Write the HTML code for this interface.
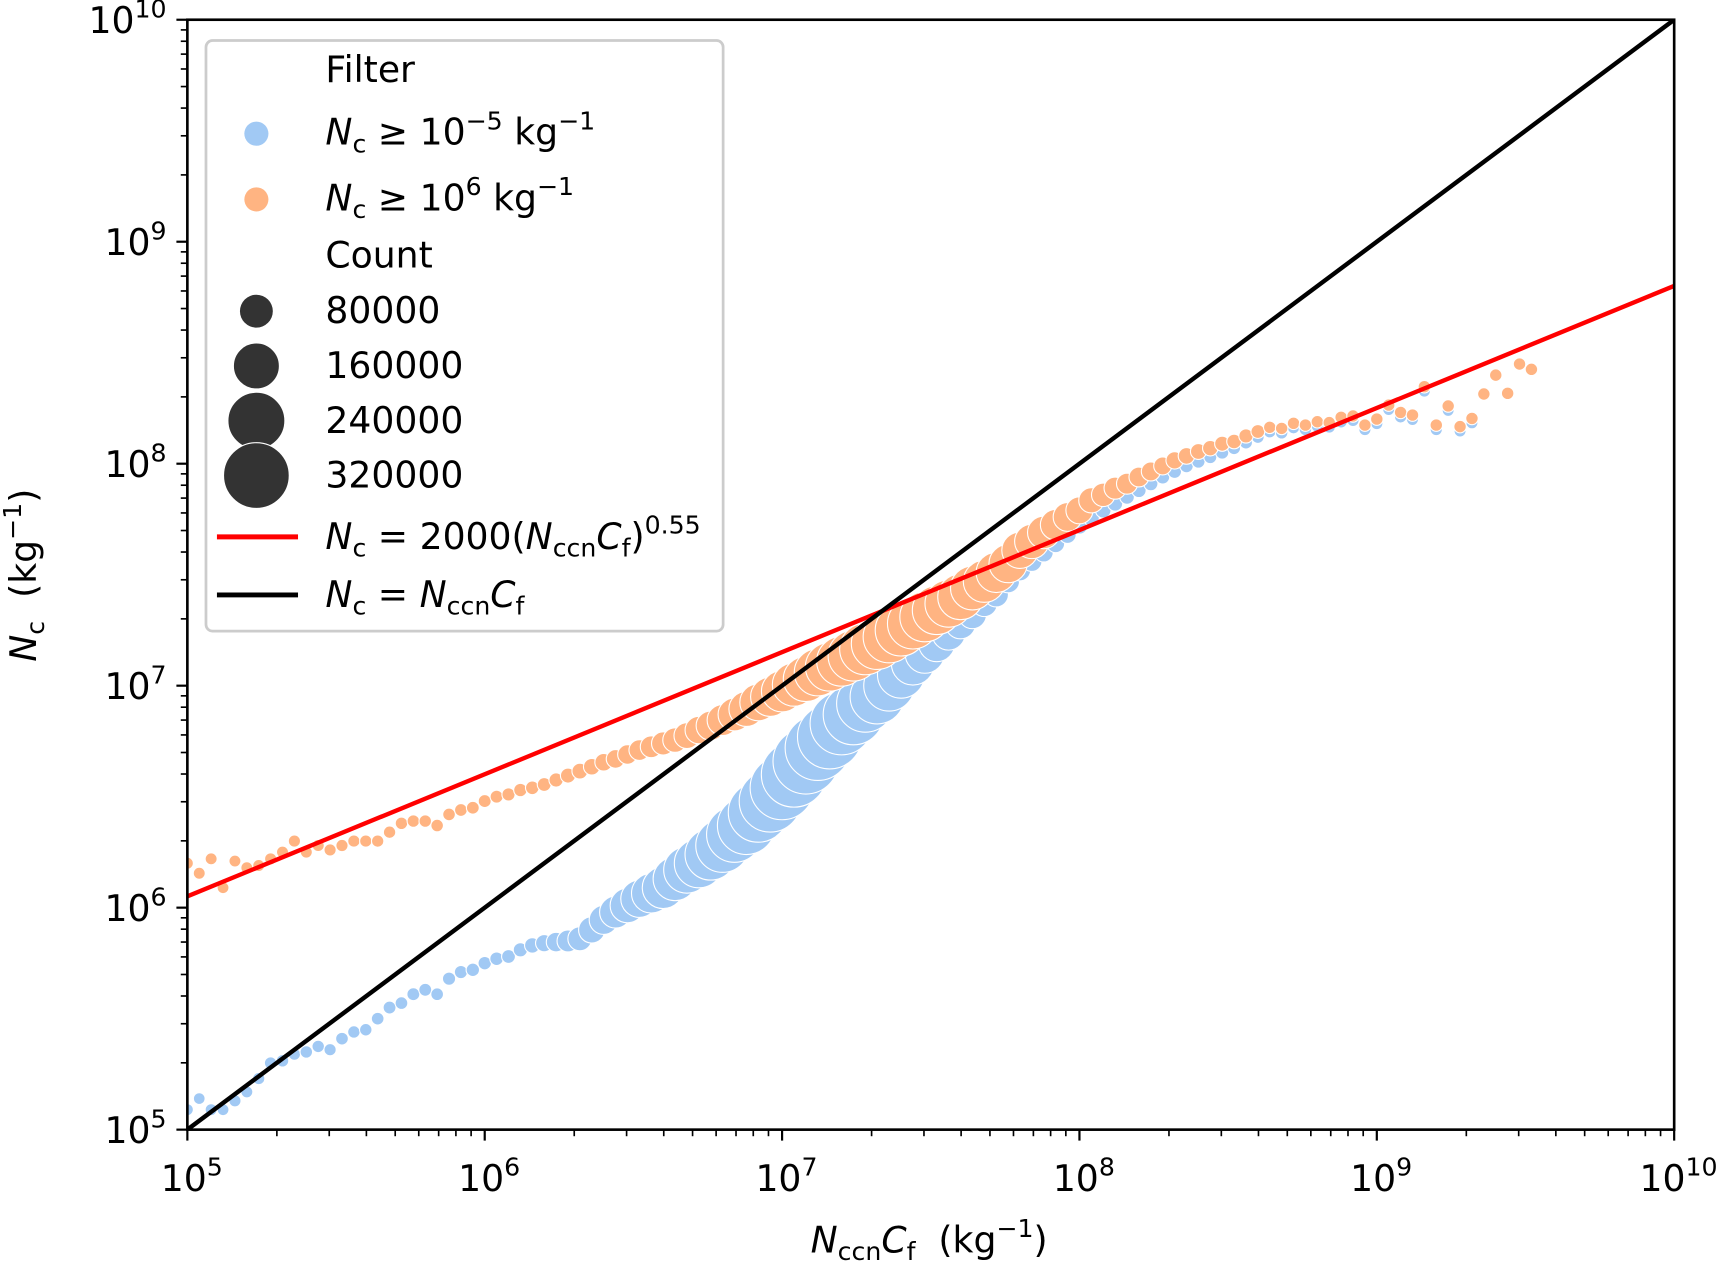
<!DOCTYPE html>
<html><head><meta charset="utf-8"><style>
html,body{margin:0;padding:0;background:#fff;}
svg{display:block;font-family:"DejaVu Sans","Liberation Sans",sans-serif;}
</style></head><body>
<svg id="chart" xmlns="http://www.w3.org/2000/svg" width="1718" height="1263" viewBox="0 0 1568 1152.7">
<defs><clipPath id="plotclip"><rect x="171" y="18" width="1357" height="1013"/></clipPath></defs>
<rect x="0" y="0" width="1568" height="1153" fill="#fff"/>
<g id="points" clip-path="url(#plotclip)"></g>
<g id="lines" clip-path="url(#plotclip)"></g>
<rect x="171" y="18" width="1357" height="1013" fill="none" stroke="#000" stroke-width="2.4"/>
<g id="ticks"></g>
<text x="848" y="1143" font-size="33" text-anchor="middle"><tspan font-style="italic">N</tspan><tspan font-size="23" dy="7">ccn</tspan><tspan font-style="italic" dy="-7">C</tspan><tspan font-size="23" dy="7">f</tspan><tspan dy="-7">&#160;&#160;(kg</tspan><tspan font-size="23" dy="-14">−1</tspan><tspan dy="14">)</tspan></text>
<text transform="translate(33,525) rotate(-90)" font-size="33" text-anchor="middle"><tspan font-style="italic">N</tspan><tspan font-size="23" dy="7">c</tspan><tspan dy="-7">&#160;&#160;(kg</tspan><tspan font-size="23" dy="-14">−1</tspan><tspan dy="14">)</tspan></text>
<g>
<rect x="188" y="37" width="472" height="539" rx="6" fill="#fff" fill-opacity="0.8" stroke="#cccccc" stroke-width="2.5"/>
<text x="297" y="75" font-size="33">Filter</text>
<circle cx="234" cy="122" r="11" fill="#a1c9f4"/>
<text x="297" y="132" font-size="33"><tspan font-style="italic">N</tspan><tspan font-size="23" dy="7">c</tspan><tspan dy="-7">&#160;≥&#160;10</tspan><tspan font-size="23" dy="-14">−5</tspan><tspan dy="14">&#160;kg</tspan><tspan font-size="23" dy="-14">−1</tspan></text>
<circle cx="234" cy="182" r="11" fill="#ffb482"/>
<text x="297" y="192" font-size="33"><tspan font-style="italic">N</tspan><tspan font-size="23" dy="7">c</tspan><tspan dy="-7">&#160;≥&#160;10</tspan><tspan font-size="23" dy="-14">6</tspan><tspan dy="14">&#160;kg</tspan><tspan font-size="23" dy="-14">−1</tspan></text>
<text x="297" y="244" font-size="33">Count</text>
<circle cx="234" cy="284" r="15" fill="#333"/>
<text x="297" y="295" font-size="33">80000</text>
<circle cx="234" cy="334" r="21" fill="#333" stroke="#fff" stroke-width="1"/>
<text x="297" y="345" font-size="33">160000</text>
<circle cx="234" cy="384" r="26" fill="#333" stroke="#fff" stroke-width="1"/>
<text x="297" y="395" font-size="33">240000</text>
<circle cx="234" cy="434" r="30" fill="#333" stroke="#fff" stroke-width="1"/>
<text x="297" y="445" font-size="33">320000</text>
<line x1="198" y1="490" x2="272" y2="490" stroke="#ff0000" stroke-width="4.5"/>
<text x="297" y="501" font-size="33"><tspan font-style="italic">N</tspan><tspan font-size="23" dy="7">c</tspan><tspan dy="-7">&#160;=&#160;2000(</tspan><tspan font-style="italic">N</tspan><tspan font-size="23" dy="7">ccn</tspan><tspan font-style="italic" dy="-7">C</tspan><tspan font-size="23" dy="7">f</tspan><tspan dy="-7">)</tspan><tspan font-size="23" dy="-14">0.55</tspan></text>
<line x1="198" y1="543" x2="272" y2="543" stroke="#000" stroke-width="4.5"/>
<text x="297" y="554" font-size="33"><tspan font-style="italic">N</tspan><tspan font-size="23" dy="7">c</tspan><tspan dy="-7">&#160;=&#160;</tspan><tspan font-style="italic">N</tspan><tspan font-size="23" dy="7">ccn</tspan><tspan font-style="italic" dy="-7">C</tspan><tspan font-size="23" dy="7">f</tspan></text>
</g>
</svg>
<script>
const xStartLog = 5.0;
const xStepLog = 0.04;
const blueLog10Nc = [5.09,5.14,5.09,5.09,5.13,5.17,5.23,5.30,5.31,5.34,5.35,5.375,5.36,5.41,5.44,5.45,5.50,5.55,5.57,5.61,5.63,5.61,5.68,5.71,5.72,5.75,5.77,5.78,5.81,5.83,
5.84,5.845,5.85,5.86,5.90,5.945,5.98,6.01,6.04,6.065,6.09,6.13,6.17,6.20,6.24,6.28,6.33,6.37,6.43,6.48,6.54,6.60,6.66,6.72,6.77,6.83,6.87,6.92,6.95,7.00,7.05,7.10,7.145,7.19,7.235,7.28,7.32,7.37,7.41,
7.47,7.52,7.56,7.60,7.64,7.68,7.72,7.755,7.79,7.82,7.85,7.88,7.91,7.94,7.965,7.99,8.01,8.03,8.05,8.07,8.095,8.12,
8.144,8.139,8.162,8.154,8.169,8.165,8.189,8.195,8.154,8.181,8.244,8.211,8.199,8.327,8.154,8.24,8.147,8.184];
const blueCount = [2000,1500,2000,1800,2500,2000,2500,3000,3000,2500,3000,3000,2500,3500,3000,3000,3500,4000,3500,4000,4000,3500,4500,4500,5000,5000,5500,6000,7000,
10000,15000,22000,30000,38000,48000,60000,75000,90000,105000,120000,135000,150000,170000,190000,210000,230000,250000,270000,290000,310000,330000,345000,350000,345000,335000,320000,295000,265000,235000,205000,175000,145000,120000,100000,82000,68000,56000,47000,40000,34000,28000,24000,20000,17000,15000,13000,
11000,10000,9000,8000,7500,7000,6500,6000,5500,5000,4500,4500,4000,4000,3500,
3000,3000,2500,3000,2500,2500,3000,2500,2500,2500,2000,2500,2000,2000,2500,2000,2000,2000];
const orangeLog10Nc = [6.20,6.155,6.22,6.09,6.21,6.18,6.19,6.22,6.25,6.30,6.25,6.28,6.26,6.28,6.30,6.30,6.30,6.34,6.38,6.39,6.39,6.37,6.42,6.44,6.45,6.48,6.50,6.51,6.53,6.54,6.555,
6.575,6.595,6.615,6.635,6.655,6.67,6.69,6.71,6.725,6.74,6.755,6.775,6.80,6.82,6.845,6.87,6.895,6.925,6.95,6.975,7.005,7.03,7.06,7.085,7.11,7.135,7.165,7.19,7.22,7.25,7.28,7.31,7.34,7.37,7.40,7.44,7.47,7.51,7.55,7.61,7.65,7.69,7.725,7.76,7.79,
7.835,7.86,7.89,7.91,7.94,7.965,7.99,8.015,8.035,8.055,8.07,8.09,8.10,8.125,8.145,
8.164,8.159,8.182,8.174,8.189,8.185,8.209,8.215,8.174,8.201,8.264,8.231,8.219,8.347,8.174,8.26,8.167,8.204,8.314,8.399,8.317,8.449,8.425];
const orangeCount = [2000,2000,2000,1800,2000,2000,2000,2200,2200,2400,2200,2400,2400,2500,2600,2600,2700,2800,3000,3000,3000,3200,3400,3600,3800,4000,4200,4500,5000,5500,6000,
7000,9000,11000,13000,16000,19000,22000,26000,30000,35000,40000,46000,53000,61000,70000,80000,92000,104000,118000,132000,146000,160000,174000,186000,196000,204000,210000,214000,215000,212000,206000,198000,188000,176000,163000,150000,137000,124000,112000,100000,89000,78000,68000,59000,51000,
43000,36000,31000,27000,23000,20000,17000,15000,13000,11000,10000,9000,8000,7000,6000,
3000,3000,3000,3000,3000,3000,3000,3000,3000,3000,3000,3000,3000,3000,3000,3000,3000,3000,3000,3000,3000,3000,3000];
const majorExponents = [5,6,7,8,9,10];
const minorMultipliers = [2,3,4,5,6,7,8,9];
const fitCoef = 2000;
const fitExp = 0.55;

const NS = 'http://www.w3.org/2000/svg';
const X = lx => 171 + (lx - 5) * 271.4;
const Y = ly => 1031 - (ly - 5) * 202.6;
const R = c => Math.sqrt(25 + c / 400);

function mk(tag, attrs, parent) {
  const el = document.createElementNS(NS, tag);
  for (const k in attrs) el.setAttribute(k, attrs[k]);
  parent.appendChild(el);
  return el;
}
const gp = document.getElementById('points');
function drawSeries(vals, counts, color, name) {
  vals.forEach((v, i) => {
    const lx = xStartLog + i * xStepLog;
    const c = mk('circle', {cx: X(lx), cy: Y(v), r: R(counts[i]), fill: color, stroke: '#fff', 'stroke-width': 1}, gp);
    
    
  });
}
drawSeries(blueLog10Nc, blueCount, '#a1c9f4', 'point-all');
drawSeries(orangeLog10Nc, orangeCount, '#ffb482', 'point-high');

const gl = document.getElementById('lines');
const lf = mk('line', {x1: X(5), y1: Y(Math.log10(fitCoef) + fitExp * 5), x2: X(10), y2: Y(Math.log10(fitCoef) + fitExp * 10), stroke: '#ff0000', 'stroke-width': 4}, gl);


const li = mk('line', {x1: X(5), y1: Y(5), x2: X(10), y2: Y(10), stroke: '#000', 'stroke-width': 4}, gl);



const gt = document.getElementById('ticks');
majorExponents.forEach(e => {
  const tx = mk('line', {x1: X(e), y1: 1031, x2: X(e), y2: 1041, stroke: '#000', 'stroke-width': 2}, gt);
  
  
  const ty = mk('line', {x1: 161, y1: Y(e), x2: 171, y2: Y(e), stroke: '#000', 'stroke-width': 2}, gt);
  
  
  const lx = mk('text', {x: X(e) + 4, y: 1087, 'font-size': 33, 'text-anchor': 'middle'}, gt);
  
  
  lx.innerHTML = '10<tspan font-size="23" dy="-14">' + e + '</tspan>';
  const ly = mk('text', {x: 152, y: Y(e) + 12, 'font-size': 33, 'text-anchor': 'end'}, gt);
  
  
  ly.innerHTML = '10<tspan font-size="23" dy="-14">' + e + '</tspan>';
  if (e < 10) {
    minorMultipliers.forEach(m => {
      const v = e + Math.log10(m);
      const mx = mk('line', {x1: X(v), y1: 1031, x2: X(v), y2: 1037, stroke: '#000', 'stroke-width': 1.5}, gt);
      
      
      const my = mk('line', {x1: 165, y1: Y(v), x2: 171, y2: Y(v), stroke: '#000', 'stroke-width': 1.5}, gt);
      
      
    });
  }
});
</script>
</body></html>
